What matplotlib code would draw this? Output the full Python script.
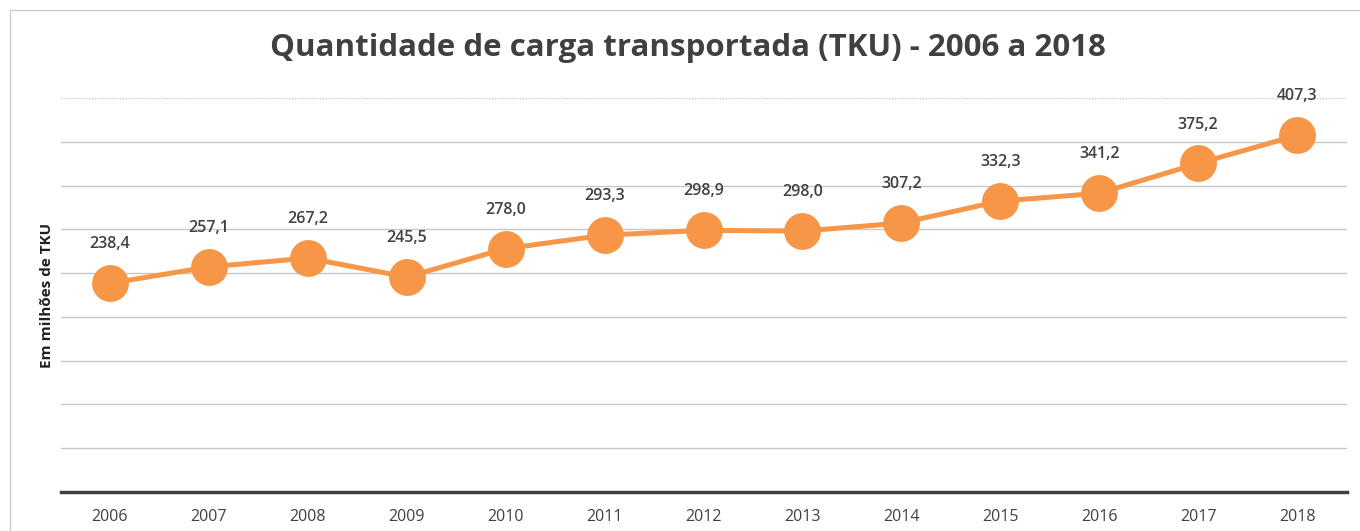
import matplotlib
matplotlib.use("Agg")
import matplotlib.pyplot as plt
from matplotlib.lines import Line2D
from matplotlib import font_manager

years = ["2006", "2007", "2008", "2009", "2010", "2011", "2012",
         "2013", "2014", "2015", "2016", "2017", "2018"]
values = [238.4, 257.1, 267.2, 245.5, 278.0, 293.3, 298.9,
          298.0, 307.2, 332.3, 341.2, 375.2, 407.3]
labels = ["238,4", "257,1", "267,2", "245,5", "278,0", "293,3", "298,9",
          "298,0", "307,2", "332,3", "341,2", "375,2", "407,3"]
title = "Quantidade de carga transportada (TKU) - 2006 a 2018"
ylabel = "Em milhões de TKU"

avail = {f.name for f in font_manager.fontManager.ttflist}
fam = "Liberation Sans Narrow" if "Liberation Sans Narrow" in avail else "Open Sans"
plt.rcParams['font.family'] = [fam, 'DejaVu Sans']

W, H = 1360, 531
fig = plt.figure(figsize=(W / 100, H / 100), dpi=100)
ax = fig.add_axes([60.5 / W, 1 - 492 / H, (1346.5 - 60.5) / W, (492 - 98) / H])

orange = "#F79646"
text_c = "#404040"
x = list(range(len(years)))
ax.plot(x, values, color=orange, lw=3.6, marker="o", markersize=25.5,
        markerfacecolor=orange, markeredgecolor=orange, zorder=3, clip_on=False)
for xi, v, lab in zip(x, values, labels):
    ax.annotate(lab, (xi, v), xytext=(0, 28), textcoords="offset points",
                ha="center", va="center", fontsize=11.5, fontweight="semibold",
                color=text_c)

ax.set_xlim(-0.5, len(years) - 0.5)
ax.set_ylim(0, 450)
ax.set_yticks(range(50, 451, 50))
ax.set_yticklabels([])
ax.tick_params(axis="y", length=0)
ax.set_xticks(x)
ax.set_xticklabels(years, fontsize=11.5, color=text_c)
ax.tick_params(axis="x", length=0, pad=12)
ax.grid(axis="y", color="#c8c8c8", lw=1)
ax.set_axisbelow(True)
gl = ax.get_ygridlines()
if gl:
    gl[-1].set_linestyle((0, (1, 1)))
for s in ["top", "right", "left"]:
    ax.spines[s].set_visible(False)
ax.spines["bottom"].set_color("#404040")
ax.spines["bottom"].set_linewidth(2.5)

ax.set_ylabel(ylabel, fontsize=11, fontweight="bold", color="#202020")
ax.yaxis.set_label_coords(-6 / (1346.5 - 60.5), 0.5)

fig.text(688 / W, 1 - 48 / H, title, ha="center", va="center",
         fontsize=22.5, fontweight="bold", color=text_c)

# outer frame
fig.add_artist(Line2D([10 / W, 10 / W], [0, 1 - 10 / H], transform=fig.transFigure,
                      color="#d0d0d0", lw=1))
fig.add_artist(Line2D([10 / W, 1], [1 - 10 / H, 1 - 10 / H], transform=fig.transFigure,
                      color="#d0d0d0", lw=1))

fig.savefig("out.png", dpi=100)
